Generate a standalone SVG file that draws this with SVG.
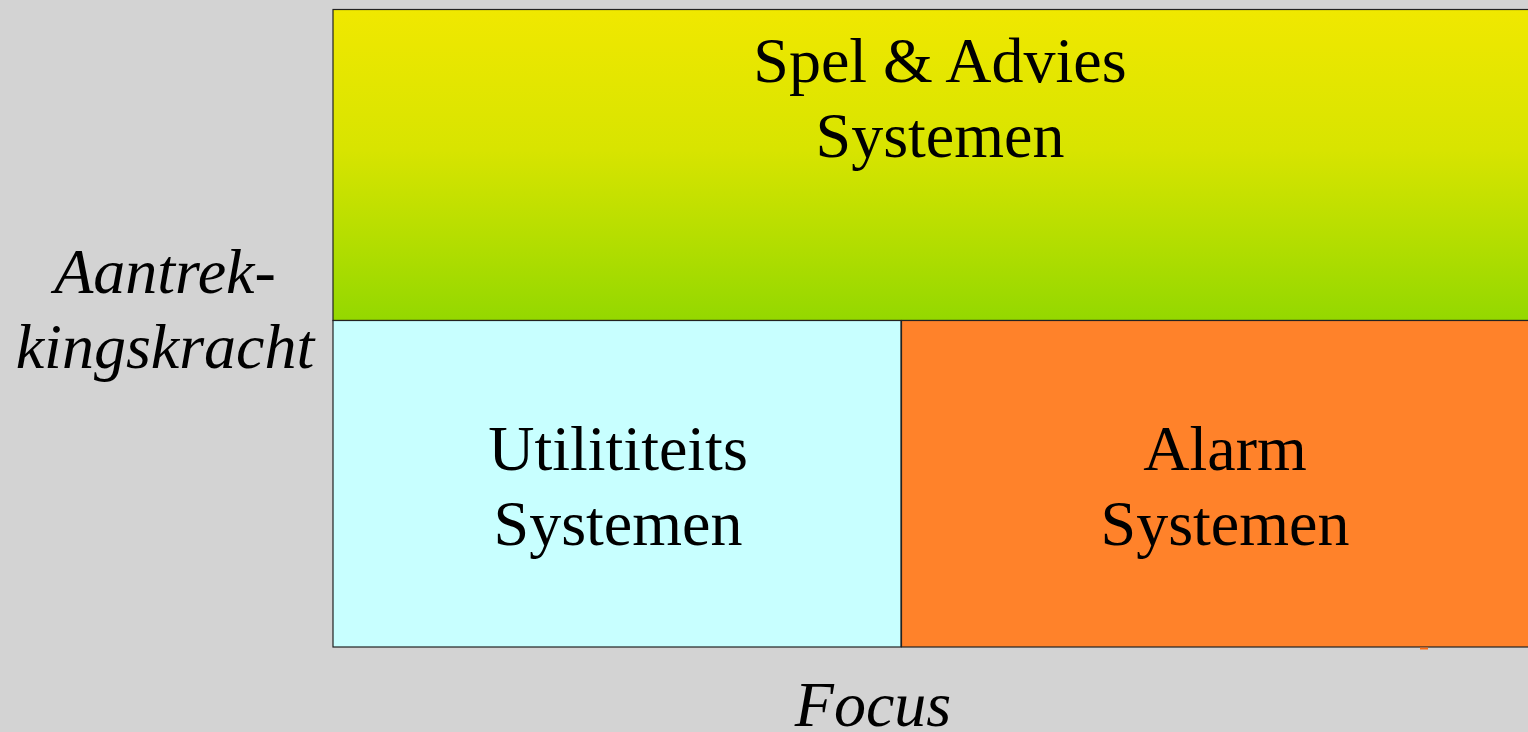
<svg xmlns="http://www.w3.org/2000/svg" width="1528" height="732" viewBox="0 0 1528 732">
<defs>
<linearGradient id="g" x1="0" y1="0" x2="0" y2="1">
<stop offset="0" stop-color="#F0E800"/>
<stop offset="0.45" stop-color="#D8E400"/>
<stop offset="1" stop-color="#94D800"/>
</linearGradient>
<style>
.t{font-family:"Liberation Serif","Times New Roman",serif;font-size:64px;fill:#000;text-anchor:middle}
.i{font-style:italic}
.b{stroke:#222;stroke-width:1.2}
</style>
</defs>
<rect width="1528" height="732" fill="#D3D3D3"/>
<g id="spel">
<rect class="b" x="333" y="9.5" width="1200" height="311" fill="url(#g)"/>
<text class="t" x="940" y="82">Spel &amp; Advies</text>
<text class="t" x="940" y="157">Systemen</text>
</g>
<g id="util">
<rect class="b" x="333" y="320.5" width="568" height="326.5" fill="#C8FFFF"/>
<text class="t" x="618" y="470">Utilititeits</text>
<text class="t" x="618" y="545">Systemen</text>
</g>
<g id="alarm">
<rect class="b" x="901.5" y="320.5" width="640" height="326.5" fill="#FF822A"/>
<rect x="1420" y="647.5" width="8" height="2" fill="#FF6A10"/>
<text class="t" x="1225" y="470">Alarm</text>
<text class="t" x="1225" y="545">Systemen</text>
</g>
<g id="labels">
<text class="t i" x="165" y="293">Aantrek-</text>
<text class="t i" x="165" y="368">kingskracht</text>
<text class="t i" x="873" y="726">Focus</text>
</g>
<g id="connectors"/>
</svg>
